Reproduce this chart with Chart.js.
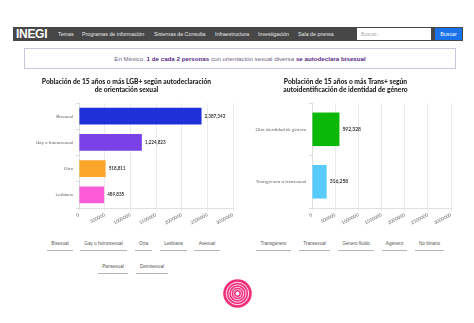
<!DOCTYPE html>
<html>
<head>
<meta charset="utf-8">
<script src="https://cdn.jsdelivr.net/npm/chart.js@4.4.1/dist/chart.umd.min.js"></script>
<style>
  html, body { margin:0; padding:0; background:#fff; }
  body { width:474px; height:323px; position:relative; overflow:hidden; font-family:"Liberation Sans", Arial, sans-serif; }
  .nav { position:absolute; left:13px; top:27px; width:450px; height:14px; background:#474747; }
  .logo { position:absolute; left:3px; top:0px; color:#fff; font-weight:bold; font-size:12px; line-height:14px; letter-spacing:-0.3px; }
  .menu { position:absolute; top:0; color:#e8e8e8; font-size:5.3px; line-height:14px; white-space:nowrap; }
  .search { position:absolute; left:344px; top:1px; width:74px; height:12px; background:#fff; color:#aaa; font-size:5px; line-height:12px; text-indent:4px; }
  .btn { position:absolute; left:422px; top:1px; width:27px; height:12px; background:#1a73e8; color:#fff; font-size:5.3px; line-height:12px; text-align:center; }
  .banner { position:absolute; left:24px; top:48px; width:432px; height:21px; border:1px solid #cfc6d9; box-sizing:border-box; text-align:center; font-size:6.2px; line-height:19px; color:#6f5f80; white-space:nowrap; }
  .banner b { color:#5b2a86; }
  .cw { position:absolute; top:76px; width:220px; height:152px; }
  .tab { position:absolute; font-size:4.6px; color:#555; text-align:center; border-bottom:1.2px solid #b5b5b5; padding-bottom:4px; white-space:nowrap; }
  .spiral { position:absolute; left:223px; top:279px; width:29px; height:29px; }
</style>
</head>
<body>
<div class="nav">
  <div class="logo">INEGI</div>
  <div class="menu" style="left:45px">Temas</div>
  <div class="menu" style="left:69px">Programas de información</div>
  <div class="menu" style="left:141px">Sistemas de Consulta</div>
  <div class="menu" style="left:202px">Infraestructura</div>
  <div class="menu" style="left:245px">Investigación</div>
  <div class="menu" style="left:285px">Sala de prensa</div>
  <div class="search">Buscar...</div>
  <div class="btn">Buscar</div>
</div>
<div class="banner">En México, <b>1 de cada 2 personas</b> con orientación sexual diversa <b>se autodeclara bisexual</b></div>

<div class="cw" style="left:20px"><canvas id="c1"></canvas></div>
<div class="cw" style="left:240px"><canvas id="c2"></canvas></div>

<div id="tabs"></div>
<svg class="spiral" viewBox="0 0 29 29" width="29" height="29">
  <circle cx="14.5" cy="14.5" r="14.3" fill="#f2317d"/>
  <circle cx="14.5" cy="14.5" r="11.2" fill="none" stroke="#fff" stroke-width="0.9"/>
  <circle cx="14.5" cy="14.5" r="8.6" fill="none" stroke="#fff" stroke-width="0.8"/>
  <circle cx="14.5" cy="14.5" r="6.2" fill="none" stroke="#fff" stroke-width="0.8"/>
  <circle cx="14.5" cy="14.5" r="4" fill="none" stroke="#fff" stroke-width="0.7"/>
  <circle cx="14.5" cy="14.5" r="1.9" fill="#fff"/>
</svg>

<script>
// ---- data ----
const lgbCategories = ['Bisexual', 'Gay u homosexual', 'Otra', 'Lesbiana'];
const lgbValues = [2387343, 1224823, 518811, 489835];
const lgbColors = ['#2030d8', '#7a42e6', '#fba62a', '#fc5bd8'];
const transCategories = ['Otra identidad de género', 'Transgénero o transexual'];
const transValues = [592328, 316258];
const transColors = ['#0ab80a', '#58cbfc'];
const axisMax = 3000000;
const axisStep = 500000;
const lgbTitle = ['Población de 15 años o más LGB+ según autodeclaración', 'de orientación sexual'];
const transTitle = ['Población de 15 años o más Trans+ según', 'autoidentificación de identidad de género'];
const lgbTabs = ['Bisexual', 'Gay u homosexual', 'Otra', 'Lesbiana', 'Asexual', 'Pansexual', 'Demisexual'];
const transTabs = ['Transgénero', 'Transexual', 'Género fluido', 'Agénero', 'No binario'];

// ---- tabs (html) ----
const tabPos = [
  [lgbTabs[0], 47, 244, 26], [lgbTabs[1], 80, 244, 47], [lgbTabs[2], 135, 244, 17], [lgbTabs[3], 160, 244, 27], [lgbTabs[4], 194, 244, 26],
  [lgbTabs[5], 98, 267, 30], [lgbTabs[6], 136, 267, 32],
  [transTabs[0], 256, 244, 35], [transTabs[1], 299, 244, 31], [transTabs[2], 338, 244, 36], [transTabs[3], 382, 244, 25], [transTabs[4], 415, 244, 29]
];
const tabsEl = document.getElementById('tabs');
tabPos.forEach(([t, x, y, w]) => {
  const d = document.createElement('div');
  d.className = 'tab';
  d.textContent = t;
  d.style.left = x + 'px'; d.style.top = (y - 3) + 'px'; d.style.width = w + 'px';
  tabsEl.appendChild(d);
});

// ---- charts ----
const valueLabels = {
  id: 'valueLabels',
  afterDatasetsDraw(chart, args, opts) {
    const ctx = chart.ctx;
    const ds = chart.data.datasets[0];
    const meta = chart.getDatasetMeta(0);
    ctx.save();
    ctx.font = 'bold ' + opts.size + 'px Lato';
    ctx.fillStyle = '#3a3a3a';
    ctx.textAlign = 'left';
    ctx.textBaseline = 'middle';
    meta.data.forEach((bar, i) => {
      ctx.fillText(ds.data[i].toLocaleString('en-US'), bar.x + 3, bar.y);
    });
    ctx.restore();
  }
};

function makeChart(id, cats, vals, colors, title, yWidth, padRight, labelSize) {
  return new Chart(document.getElementById(id), {
    type: 'bar',
    data: { labels: cats, datasets: [{ data: vals, backgroundColor: colors, borderWidth: 0, barPercentage: 0.8, categoryPercentage: 0.8 }] },
    plugins: [valueLabels],
    options: {
      indexAxis: 'y',
      responsive: true,
      maintainAspectRatio: false,
      animation: false,
      layout: { padding: { left: 0, right: padRight, top: 0, bottom: 0 } },
      plugins: {
        legend: { display: false },
        tooltip: { enabled: false },
        title: { display: true, text: title, color: '#222', font: { family: 'Lato', size: 6.7, weight: '900', lineHeight: 1.2 }, padding: { top: 2, bottom: 9 } },
        valueLabels: { size: labelSize }
      },
      scales: {
        x: {
          min: 0, max: axisMax,
          ticks: { stepSize: axisStep, autoSkip: false, minRotation: 28, maxRotation: 28, color: '#666', font: { family: 'Lato', size: 4.6 }, padding: 1, callback: v => String(v) },
          grid: { color: '#e6e6e6', lineWidth: 0.8, tickLength: 3 },
          border: { color: '#e0e0e0' },
          afterFit: s => { s.height = 20; }
        },
        y: {
          ticks: { color: '#666', font: { family: 'Lato', size: 4.6 }, padding: 3 },
          grid: { drawOnChartArea: false, color: '#dddddd', tickLength: 3 },
          border: { color: '#dddddd' },
          afterFit: s => { s.width = yWidth; }
        }
      }
    }
  });
}

makeChart('c1', lgbCategories, lgbValues, lgbColors, lgbTitle, 59, 7, 4.6);
makeChart('c2', transCategories, transValues, transColors, transTitle, 72, 9, 5);
</script>
</body>
</html>
